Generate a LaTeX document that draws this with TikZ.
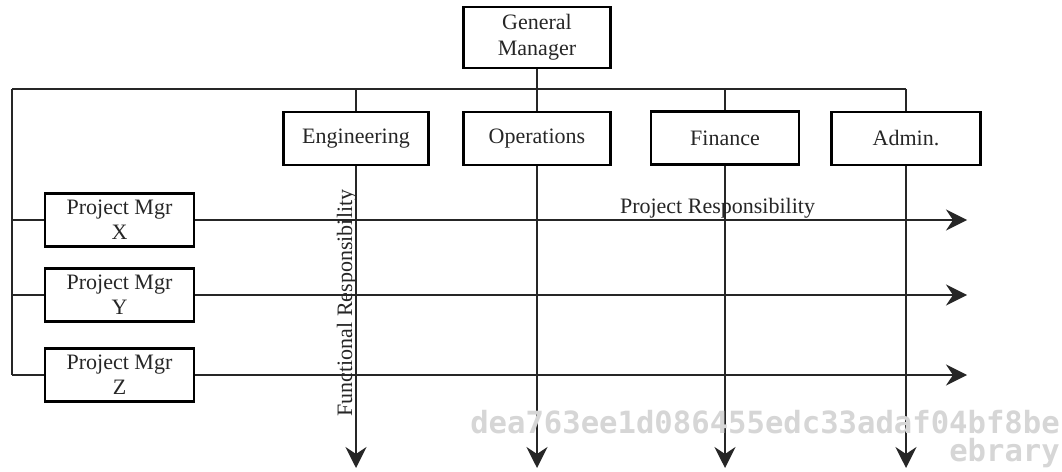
\documentclass[tikz,border=0pt]{standalone}
\usepackage{fontspec}
\setmainfont{Liberation Serif}
\newfontfamily\markfont{DejaVu Sans Mono}
\usetikzlibrary{arrows.meta}

\begin{document}
\begin{tikzpicture}[x=1pt, y=-1pt,
  font=\fontsize{22}{27}\selectfont,
  unitbox/.style={draw, line width=2.6pt, rectangle, align=center,
    minimum height=53pt, inner sep=0pt, text=black!85},
  link/.style={line width=1.9pt, black!85},
  flow/.style={link, -{Stealth[length=21pt, width=21pt, inset=7pt]}},
  caption/.style={inner sep=0pt, text=black!85},
  stampfont/.style={inner sep=0pt, anchor=base east, text=black!16,
    font=\markfont\bfseries\fontsize{30.6}{30}\selectfont}]
\useasboundingbox (0,0) rectangle (1062,471);

% top of the hierarchy
\node[unitbox, minimum width=147pt, minimum height=61pt] (gm) at (537,37.5)
  {General\\[-1pt]Manager};

% functional departments
\node[unitbox, minimum width=145pt] (eng) at (356,138.5) {Engineering};
\node[unitbox, minimum width=147pt] (ops) at (537,138.5) {Operations};
\node[unitbox, minimum width=148pt] (fin) at (725,138) {Finance};
\node[unitbox, minimum width=149pt] (adm) at (906,138.5) {Admin.};

% project managers
\node[unitbox, minimum width=149pt] (pmx) at (119.5,220) {Project Mgr\\[-2pt]X};
\node[unitbox, minimum width=149pt] (pmy) at (119.5,295) {Project Mgr\\[-2pt]Y};
\node[unitbox, minimum width=149pt] (pmz) at (119.5,375) {Project Mgr\\[-2pt]Z};

% reference points for the bus and the arrow ends
\coordinate (busL) at (12,89);
\coordinate (busR) at (906,89);
\coordinate (bottom) at (0,468);
\coordinate (right) at (967,0);

% reporting lines
\draw[link, line width=2.3pt] (busL) -- (568,89);
\draw[link] (568,89) -- (busR);
\draw[link] (gm.south) -- (gm |- busL);
\draw[link] (eng.north) -- (eng |- busL);
\draw[link] (ops.north) -- (ops |- busL);
\draw[link] (fin.north) -- (fin |- busL);
\draw[link] (busR) -- (adm.north);
\draw[link] (busL) -- (busL |- pmz);
\draw[link] (busL |- pmx) -- (pmx.west);
\draw[link] (busL |- pmy) -- (pmy.west);
\draw[link] (busL |- pmz) -- (pmz.west);

% functional responsibility
\draw[flow] (eng.south) -- (eng |- bottom);
\draw[flow] (ops.south) -- (ops |- bottom);
\draw[flow] (fin.south) -- (fin |- bottom);
\draw[flow] (adm.south) -- (adm |- bottom);

% project responsibility
\draw[flow] (pmx.east) -- (pmx -| right);
\draw[flow] (pmy.east) -- (pmy -| right);
\draw[flow] (pmz.east) -- (pmz -| right);

% axis captions
\node[caption, rotate=90, anchor=base] (fr) at (352,303) {Functional Responsibility};
\node[caption, anchor=base] (pr) at (717.5,213) {Project Responsibility};

% library stamp
\node[stampfont] (stamp) at (1060,433) {dea763ee1d086455edc33adaf04bf8be};
\node[stampfont] (lib) at (1060,461) {ebrary};
\end{tikzpicture}
\end{document}
